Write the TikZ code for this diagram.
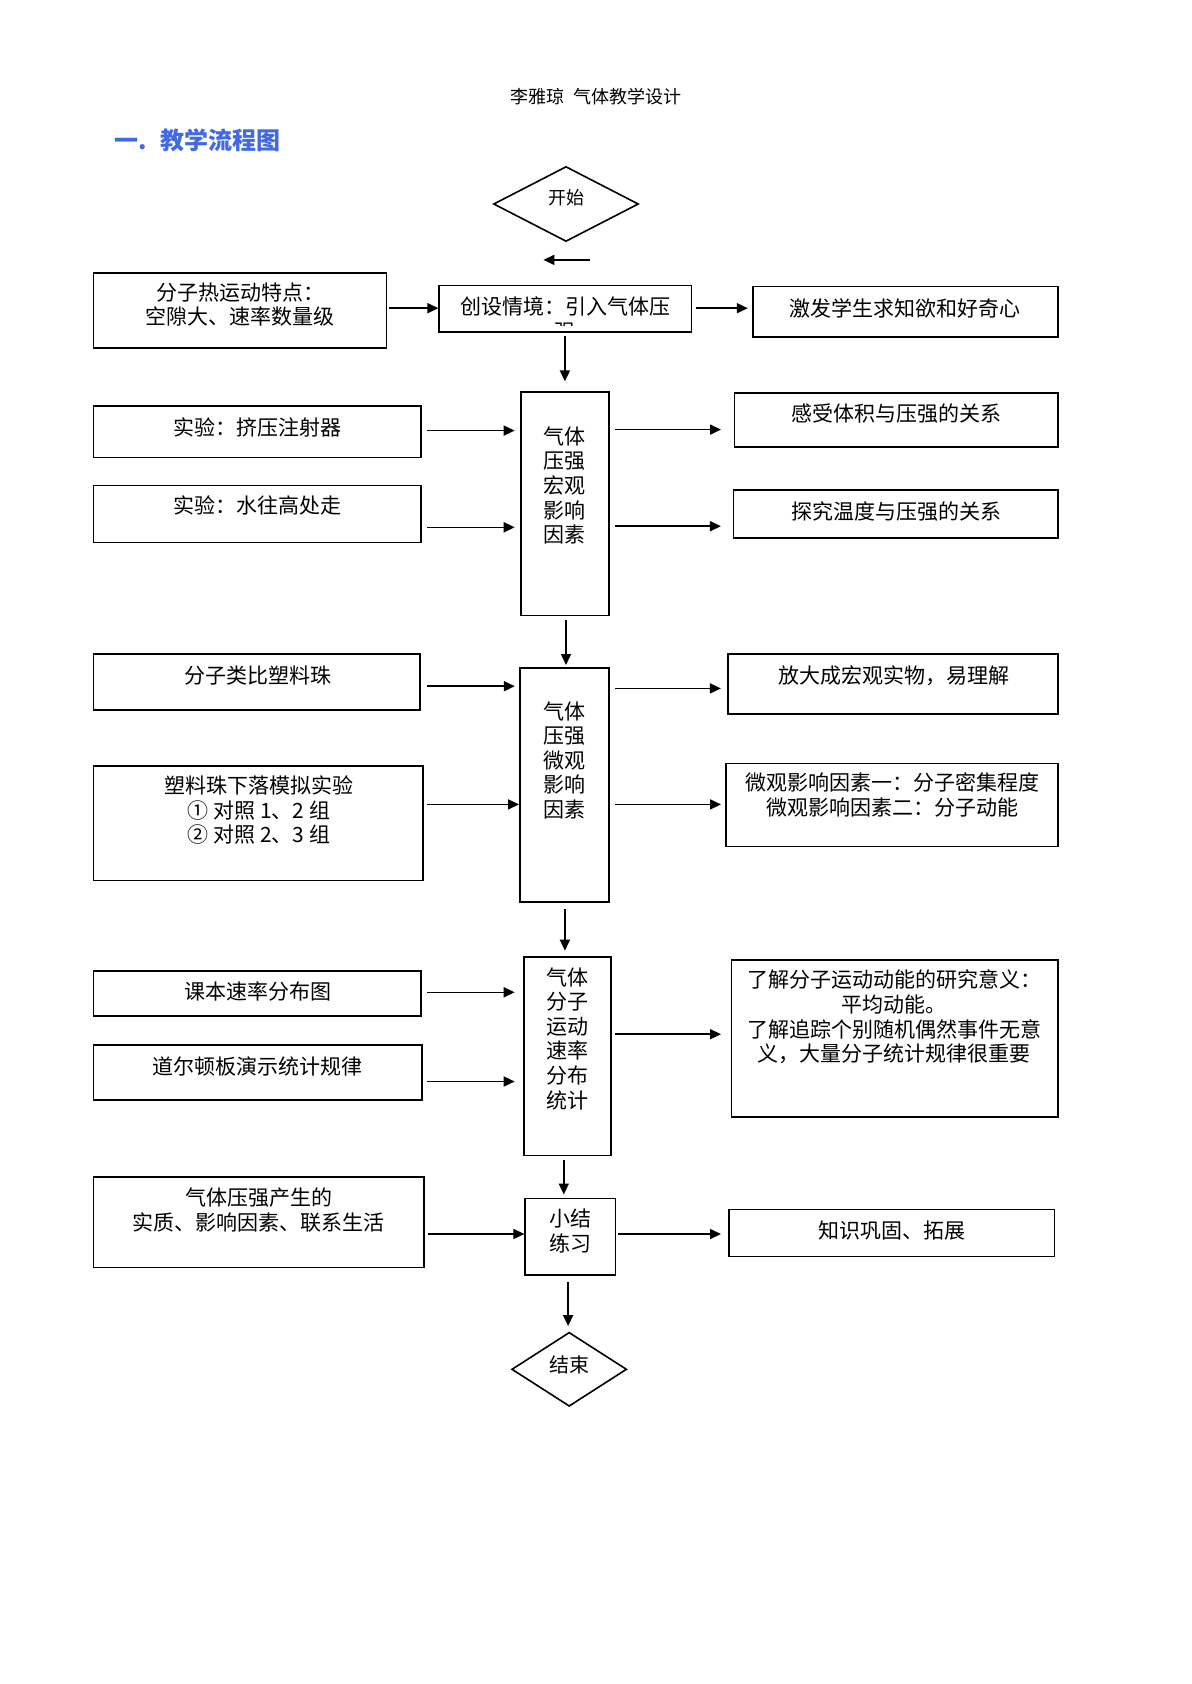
\documentclass[tikz,border=0pt]{standalone}
\usepackage{fontspec}
\setmainfont{Noto Sans CJK SC}
\usetikzlibrary{arrows.meta,fit,calc,shapes.geometric}
\definecolor{titleblue}{RGB}{65,105,225}
\tikzset{
  box/.style={draw, line width=0.8pt, inner sep=0pt, rectangle},
  dia/.style={draw, line width=0.8pt, diamond, inner sep=0pt},
  txt/.style={align=center, inner sep=0pt, font=\fontsize{10.5pt}{12.3pt}\selectfont},
  arr/.style={-{Triangle[length=5.5pt,width=5pt]}, line width=0.8pt},
}
\begin{document}
\begin{tikzpicture}[x=0.5pt,y=-0.5pt]
\fill[white] (0,0) rectangle (1191,1684);
\useasboundingbox (0,0) rectangle (1191,1684);

% header and title
\node[inner sep=0pt, font=\fontsize{9pt}{11pt}\selectfont] (hdr) at (596,96.7) {李雅琼\hspace{0.5em}气体教学设计};
\node[inner sep=0pt, anchor=west, text=titleblue, font=\fontsize{12pt}{14pt}\selectfont\bfseries] (ttl) at (114,140.7) {一.\hspace{0.55em}教学流程图};

% start / end diamonds
\node[dia, minimum width=72.5pt, minimum height=37.5pt] (start) at (566,204) {};
\node[txt, font=\fontsize{9pt}{11pt}\selectfont] (tstart) at (566,197.6) {开始};
\node[dia, minimum width=57.5pt, minimum height=37pt] (end) at (569.2,1369.3) {};
\node[txt, font=\fontsize{10pt}{12pt}\selectfont] (tend) at (569.2,1365) {结束};

% boxes
\node[box, fit={(93.4,272.8) (386.6,348)}] (A) {};
\node[box, fit={(439.2,285.7) (691.6,331.8)}] (B) {};
\node[box, fit={(752.8,286.7) (1057.8,337.2)}] (C) {};
\node[box, fit={(520.9,392) (608.9,615.4)}] (D) {};
\node[box, fit={(93.4,406) (421,457.5)}] (E) {};
\node[box, fit={(93.4,485.4) (421,542.3)}] (F) {};
\node[box, fit={(734.6,393) (1057.8,446.8)}] (G) {};
\node[box, fit={(733.5,489.7) (1057.8,538)}] (H) {};
\node[box, fit={(519.8,668) (608.9,902.1)}] (I) {};
\node[box, fit={(93.4,654) (419.9,709.9)}] (J) {};
\node[box, fit={(93.4,765.7) (423.1,880.6)}] (K) {};
\node[box, fit={(728.1,654) (1057.8,714.2)}] (L) {};
\node[box, fit={(726,763.6) (1057.8,846.3)}] (M) {};
\node[box, fit={(524.1,956.9) (611.1,1155.6)}] (N) {};
\node[box, fit={(93.4,970.8) (421,1016)}] (O) {};
\node[box, fit={(93.4,1045) (422,1099.7)}] (P) {};
\node[box, fit={(731.4,960.1) (1057.8,1116.9)}] (Q) {};
\node[box, fit={(525.2,1198.5) (615.4,1274.8)}] (R) {};
\node[box, fit={(93.4,1177) (424.2,1267.3)}] (S) {};
\node[box, fit={(729.2,1209.3) (1054.6,1256.5)}] (T) {};

% texts
\node[txt] (tA) at (240,304.5) {分子热运动特点：\\空隙大、速率数量级};
\begin{scope}
\clip (439.2,285.7) rectangle (691.6,326);
\node[txt] (tB) at (565.4,319) {创设情境：引入气体压\\强};
\end{scope}
\node[txt] (tC) at (905,308.2) {激发学生求知欲和好奇心};
\node[txt] (tD) at (564.9,485.4) {气体\\压强\\宏观\\影响\\因素};
\node[txt] (tE) at (257.7,427.4) {实验：挤压注射器};
\node[txt] (tF) at (257.7,505.8) {实验：水往高处走};
\node[txt] (tG) at (896.2,413.5) {感受体积与压强的关系};
\node[txt] (tH) at (896.2,511.2) {探究温度与压强的关系};
\node[txt] (tI) at (564.9,760.3) {气体\\压强\\微观\\影响\\因素};
\node[txt] (tJ) at (257.7,675.5) {分子类比塑料珠};
\node[txt] (tK) at (259,810.3) {塑料珠下落模拟实验\\① 对照 1、2 组\\② 对照 2、3 组};
\node[txt] (tL) at (894,675.5) {放大成宏观实物，易理解};
\node[txt] (tM) at (892,794.7) {微观影响因素一：分子密集程度\\微观影响因素二：分子动能};
\node[txt] (tN) at (567.6,1038.5) {气体\\分子\\运动\\速率\\分布\\统计};
\node[txt] (tO) at (258,991.3) {课本速率分布图};
\node[txt] (tP) at (257.7,1066.4) {道尔顿板演示统计规律};
\node[txt] (tQ) at (894,1017) {了解分子运动动能的研究意义：\\平均动能。\\了解追踪个别随机偶然事件无意\\义，大量分子统计规律很重要};
\node[txt] (tR) at (570.3,1230.7) {小结\\练习};
\node[txt] (tS) at (258.8,1209.8) {气体压强产生的\\实质、影响因素、联系生活};
\node[txt] (tT) at (892,1230.7) {知识巩固、拓展};

% stray arrow under start
\coordinate (s1) at (589.6,259.9);
\coordinate (s2) at (543.4,259.9);
\draw[arr] (s1) -- (s2);

% connectors
\draw[arr, shorten <=1pt] (A.east |- 0,308.2) -- (B.west |- 0,308.2);
\draw[arr, shorten <=1.6pt, shorten >=2.1pt] (B.east |- 0,308.2) -- (C.west |- 0,308.2);
\draw[arr, shorten <=1.6pt, shorten >=4.9pt] (B.south -| 564.9,0) -- (D.north -| 564.9,0);
\draw[arr, shorten <=2.7pt, shorten >=2.7pt] (E.east |- 0,430.6) -- (D.west |- 0,430.6);
\draw[arr, shorten <=2.7pt, shorten >=2.7pt] (F.east |- 0,527.3) -- (D.west |- 0,527.3);
\draw[arr, shorten <=2.7pt, shorten >=6.4pt] (D.east |- 0,429.6) -- (G.west |- 0,429.6);
\draw[arr, shorten <=2.7pt, shorten >=5.9pt] (D.east |- 0,526.2) -- (H.west |- 0,526.2);
\draw[arr, shorten <=2.1pt, shorten >=1.1pt] (D.south -| 566,0) -- (I.north -| 566,0);
\draw[arr, shorten <=3.2pt, shorten >=2.1pt] (J.east |- 0,686.2) -- (I.west |- 0,686.2);
\draw[arr, shorten <=1.6pt] (K.east |- 0,804.4) -- (I.west |- 0,804.4);
\draw[arr, shorten <=2.7pt, shorten >=3.2pt] (I.east |- 0,688.4) -- (L.west |- 0,688.4);
\draw[arr, shorten <=2.7pt, shorten >=2.1pt] (I.east |- 0,804.4) -- (M.west |- 0,804.4);
\draw[arr, shorten <=3.2pt, shorten >=2.7pt] (I.south -| 564.9,0) -- (N.north -| 564.9,0);
\draw[arr, shorten <=2.7pt, shorten >=4.3pt] (O.east |- 0,992.3) -- (N.west |- 0,992.3);
\draw[arr, shorten <=2.2pt, shorten >=4.3pt] (P.east |- 0,1081.5) -- (N.west |- 0,1081.5);
\draw[arr, shorten <=1.6pt, shorten >=4.8pt] (N.east |- 0,1034.2) -- (Q.west |- 0,1034.2);
\draw[arr, shorten <=1.6pt, shorten >=1.6pt] (N.south -| 563.8,0) -- (R.north -| 563.8,0);
\draw[arr, shorten <=1.6pt] (S.east |- 0,1234) -- (R.west |- 0,1234);
\draw[arr, shorten <=1.1pt, shorten >=3.7pt] (R.east |- 0,1234) -- (T.west |- 0,1234);
\draw[arr, shorten <=3.2pt, shorten >=2.7pt] (R.south -| 568.1,0) -- (end.north -| 568.1,0);
\end{tikzpicture}
\end{document}
